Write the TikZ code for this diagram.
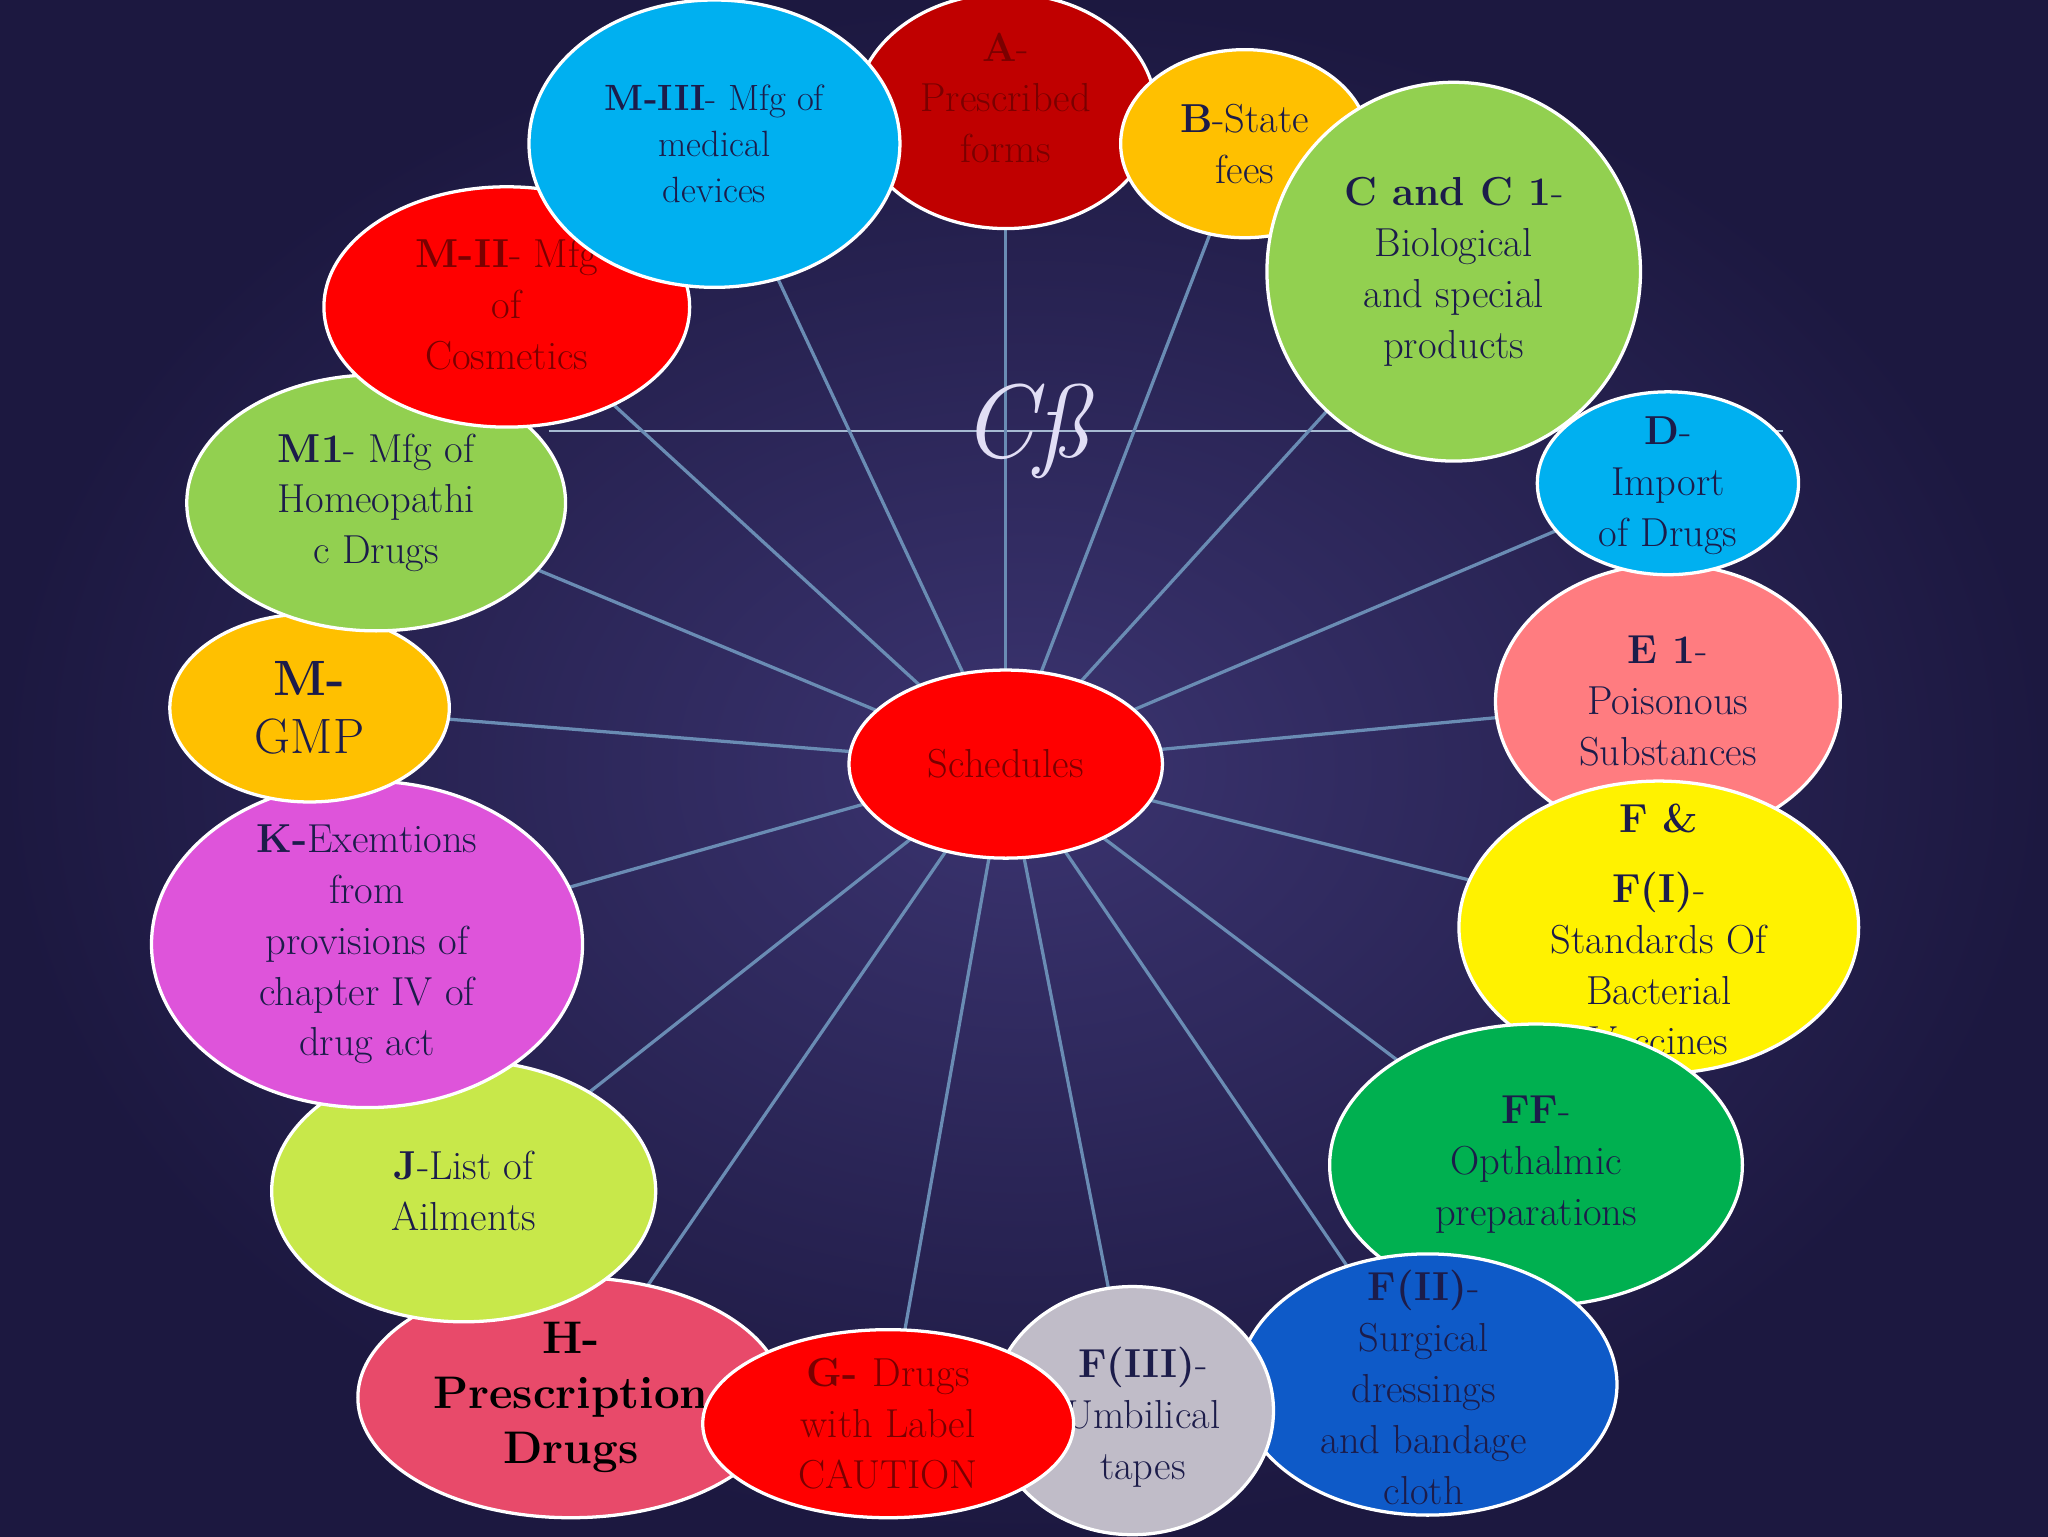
\documentclass[tikz,border=0pt]{standalone}
\usetikzlibrary{shapes.geometric}
\definecolor{bgin}{HTML}{3B3470}
\definecolor{bgout}{HTML}{1C1840}
\definecolor{lnc}{HTML}{6A8CB4}
\definecolor{navy}{HTML}{1C1C4A}
\definecolor{dred}{HTML}{7A0000}
\tikzset{
  ell/.style={draw=white,line width=2.5pt},
  lbl/.style={align=center,text=navy,font=\fontsize{31}{39}\selectfont,inner sep=0pt},
  spoke/.style={draw=lnc,line width=2.5pt}
}
\begin{document}
\begin{tikzpicture}[x=1pt,y=-1pt]
\shade[inner color=bgin,outer color=bgout] (0,0) rectangle (1568,1176);
\useasboundingbox (0,0) rectangle (1568,1176);
\coordinate (s) at (770,585);
\coordinate (a) at (770,175); \coordinate (b) at (953,110); \coordinate (m3) at (547,110);
\coordinate (m2) at (388,235); \coordinate (c) at (1113,208); \coordinate (m1) at (288,385);
\coordinate (d) at (1277,370); \coordinate (m) at (237,542); \coordinate (e) at (1277,537);
\coordinate (f) at (1270,710); \coordinate (k) at (281,723); \coordinate (j) at (355,912);
\coordinate (ff) at (1176,892); \coordinate (h) at (437,1070); \coordinate (g) at (680,1090);
\coordinate (f3) at (867,1080); \coordinate (f2) at (1093,1060);
\coordinate (hl) at (420,330); \coordinate (hr) at (1365,330);
\draw[draw=lnc!60!white,line width=1.5pt] (hl) -- (hr);
\foreach \t in {a,b,m3,m2,c,m1,d,m,e,f,k,j,ff,h,g,f3,f2} \draw[spoke] (s) -- (\t);
\filldraw[ell,fill={rgb,255:red,255;green,124;blue,128}] (e) ellipse [x radius=132,y radius=105];
\node[lbl] (te) at (e) {\textbf{E 1}-\\Poisonous\\Substances};
\filldraw[ell,fill={rgb,255:red,0;green,176;blue,240}] (d) ellipse [x radius=100,y radius=70];
\node[lbl] (td) at (1277,372) {\textbf{D}-\\Import\\of Drugs};
\filldraw[ell,fill=yellow] (f) ellipse [x radius=153,y radius=112];
\node[lbl] (tf) at (1270,712) {\textbf{F \&}\\[14pt]\textbf{F(I)}-\\Standards Of\\Bacterial\\Vaccines};
\filldraw[ell,fill={rgb,255:red,0;green,176;blue,80}] (ff) ellipse [x radius=158,y radius=108];
\node[lbl] (tff) at (ff) {\textbf{FF}-\\Opthalmic\\preparations};
\filldraw[ell,fill={rgb,255:red,14;green,90;blue,200}] (f2) ellipse [x radius=145,y radius=100];
\node[lbl] (tf2) at (1090,1062) {\textbf{F(II)}-\\Surgical\\dressings\\and bandage\\cloth};
\filldraw[ell,fill={rgb,255:red,192;green,188;blue,200}] (f3) ellipse [x radius=108,y radius=95];
\node[lbl] (tf3) at (875,1085) {\textbf{F(III)}-\\Umbilical\\tapes};
\filldraw[ell,fill={rgb,255:red,232;green,74;blue,106}] (h) ellipse [x radius=163,y radius=92];
\node[lbl,text=black,font=\fontsize{35}{42}\selectfont\bfseries] (th) at (h) {H-\\Prescription\\Drugs};
\filldraw[ell,fill=red] (g) ellipse [x radius=142,y radius=72];
\node[lbl,text=dred] (tg) at (g) {\textbf{G- }Drugs\\with Label\\CAUTION};
\filldraw[ell,fill={rgb,255:red,200;green,232;blue,74}] (j) ellipse [x radius=147,y radius=100];
\node[lbl] (tj) at (j) {\textbf{J}-List of\\Ailments};
\filldraw[ell,fill={rgb,255:red,222;green,84;blue,218}] (k) ellipse [x radius=165,y radius=125];
\node[lbl] (tk) at (k) {\textbf{K-}Exemtions\\from\\provisions of\\chapter IV of\\drug act};
\filldraw[ell,fill={rgb,255:red,255;green,192;blue,0}] (m) ellipse [x radius=107,y radius=72];
\node[lbl,font=\fontsize{38}{44}\selectfont] (tm) at (m) {\textbf{M-}\\GMP};
\filldraw[ell,fill={rgb,255:red,146;green,208;blue,80}] (m1) ellipse [x radius=145,y radius=98];
\node[lbl] (tm1) at (m1) {\textbf{M1}- Mfg of\\Homeopathi\\c Drugs};
\filldraw[ell,fill=red] (m2) ellipse [x radius=140,y radius=92];
\node[lbl,text=dred] (tm2) at (388,233) {\textbf{M-II}- Mfg\\of\\Cosmetics};
\filldraw[ell,fill={rgb,255:red,192;green,0;blue,0}] (770,85) ellipse [x radius=115,y radius=90];
\node[lbl,text=dred] (ta) at (770,75) {\textbf{A}-\\Prescribed\\forms};
\filldraw[ell,fill={rgb,255:red,255;green,192;blue,0}] (b) ellipse [x radius=95,y radius=72];
\node[lbl] (tb) at (b) {\textbf{B}-State\\fees};
\filldraw[ell,fill={rgb,255:red,146;green,208;blue,80}] (c) ellipse [x radius=143,y radius=145];
\node[lbl] (tc) at (c) {\textbf{C and C 1}-\\Biological\\and special\\products};
\filldraw[ell,fill={rgb,255:red,0;green,176;blue,240}] (m3) ellipse [x radius=142,y radius=110];
\node[lbl,font=\fontsize{28}{35}\selectfont] (tm3) at (m3) {\textbf{M-III}- Mfg of\\medical\\devices};
\node[text={rgb,255:red,225;green,222;blue,245},font=\fontsize{80}{80}\selectfont\itshape] (sym) at (785,330) {Cß};
\filldraw[ell,fill=red] (s) ellipse [x radius=120,y radius=72];
\node[lbl,text=dred] (ts) at (s) {Schedules};
\end{tikzpicture}
\end{document}
